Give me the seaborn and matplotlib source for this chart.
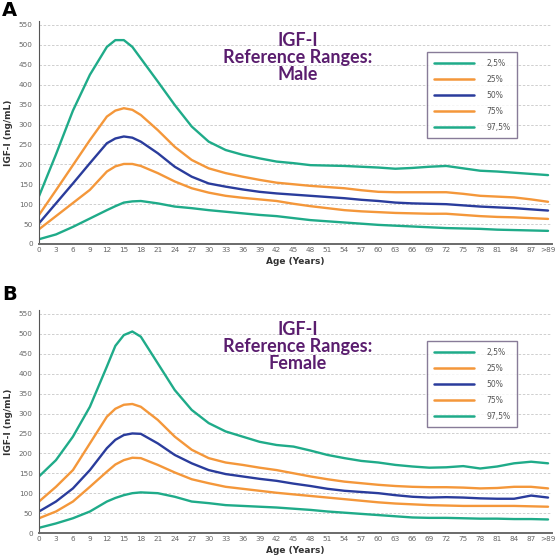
import matplotlib
matplotlib.use("Agg")
import matplotlib.pyplot as plt
import seaborn as sns
import pandas as pd

ages = [0, 3, 6, 9, 12, 13.5, 15, 16.5, 18, 21, 24, 27, 30, 33, 36, 39, 42, 45, 48, 51,
        54, 57, 60, 63, 66, 69, 72, 75, 78, 81, 84, 87, 90]
tick_pos = [0, 3, 6, 9, 12, 15, 18, 21, 24, 27, 30, 33, 36, 39, 42, 45, 48, 51, 54, 57,
            60, 63, 66, 69, 72, 75, 78, 81, 84, 87, 90]
tick_labels = ["0", "3", "6", "9", "12", "15", "18", "21", "24", "27", "30", "33", "36",
               "39", "42", "45", "48", "51", "54", "57", "60", "63", "66", "69", "72",
               "75", "78", "81", "84", "87", ">89"]
percentiles = ["2,5%", "25%", "50%", "75%", "97,5%"]

male_p2_5 = [12, 24, 43, 64, 85, 95, 104, 107, 108, 102, 94, 90, 85, 81, 77, 73, 70, 65,
             60, 57, 54, 51, 48, 46, 44, 42, 40, 39, 38, 36, 35, 34, 33]
male_p25 = [37, 70, 103, 136, 182, 195, 201, 201, 196, 178, 157, 140, 129, 121, 116, 112,
            108, 101, 95, 90, 85, 82, 80, 78, 77, 76, 76, 73, 70, 68, 67, 65, 63]
male_p50 = [52, 102, 152, 203, 253, 265, 270, 267, 257, 228, 194, 169, 152, 144, 137, 131,
            127, 124, 121, 118, 115, 111, 108, 104, 102, 101, 100, 97, 94, 92, 90, 87, 84]
male_p75 = [73, 135, 198, 261, 320, 335, 341, 337, 324, 286, 244, 211, 190, 178, 169, 161,
            154, 150, 146, 143, 140, 135, 131, 130, 130, 130, 130, 126, 121, 119, 117, 112,
            106]
male_p97_5 = [120, 225, 335, 425, 495, 512, 512, 495, 466, 408, 349, 295, 257, 236, 224,
              215, 207, 203, 198, 197, 196, 194, 192, 189, 191, 194, 196, 190, 184, 182,
              179, 176, 173]

female_p2_5 = [13, 24, 37, 54, 79, 88, 95, 100, 102, 100, 91, 79, 75, 70, 68, 66, 64, 61,
               58, 54, 51, 48, 45, 42, 39, 38, 38, 37, 36, 36, 35, 35, 34]
female_p25 = [37, 54, 79, 116, 154, 172, 183, 189, 188, 171, 152, 135, 125, 116, 111, 106,
              101, 97, 93, 89, 85, 81, 77, 74, 72, 70, 69, 68, 68, 68, 68, 67, 66]
female_p50 = [54, 79, 112, 158, 213, 234, 246, 250, 249, 225, 196, 175, 158, 148, 142, 136,
              131, 124, 118, 111, 106, 103, 100, 95, 91, 89, 90, 89, 87, 86, 86, 94, 89]
female_p75 = [79, 116, 158, 225, 292, 312, 322, 324, 317, 284, 242, 209, 188, 177, 171, 164,
              158, 150, 142, 135, 129, 125, 121, 118, 116, 115, 115, 114, 112, 113, 116,
              116, 112]
female_p97_5 = [142, 183, 242, 317, 418, 470, 497, 506, 493, 426, 359, 309, 276, 255, 242,
                229, 221, 217, 207, 196, 188, 181, 177, 171, 167, 164, 165, 168, 162, 167,
                175, 179, 175]

GREEN = "#1fab89"
ORANGE = "#f4973a"
BLUE = "#2a3c9c"
PURPLE = "#5a1d6e"
palette = {"2,5%": GREEN, "25%": ORANGE, "50%": BLUE, "75%": ORANGE, "97,5%": GREEN}


def long_df(series):
    rows = []
    for name, vals in zip(percentiles, series):
        for a, v in zip(ages, vals):
            rows.append({"age": a, "value": v, "pct": name})
    return pd.DataFrame(rows)


sns.set_style("white")
plt.rcParams["font.family"] = ["DejaVu Sans"]

fig = plt.figure(figsize=(5.57, 5.57), dpi=100)
W, H = 557.0, 557.0


def make_panel(bottom_px, series, sex, letter, letter_y):
    left = 39 / W
    width = 513 / W
    height = 223 / H
    ax = fig.add_axes([left, 1 - bottom_px / H, width, height])
    df = long_df(series)
    sns.lineplot(data=df, x="age", y="value", hue="pct", hue_order=percentiles,
                 palette=palette, linewidth=1.7, ax=ax)
    for ln in ax.get_lines():
        ln.set_solid_joinstyle("round")
    ax.set_xlim(0, 90.7)
    ax.set_ylim(0, 560)
    ax.set_yticks(range(0, 551, 50))
    ax.set_xticks(tick_pos)
    ax.set_xticklabels(tick_labels)
    ax.tick_params(axis="both", labelsize=5.2, colors="#444444", length=2.5, width=0.6,
                   pad=2)
    ax.tick_params(axis="x", length=0)
    for lab in ax.get_xticklabels() + ax.get_yticklabels():
        lab.set_color("#666666")
    ax.yaxis.grid(True, linestyle=(0, (3, 2)), color="#c8c8c8", linewidth=0.6)
    ax.xaxis.grid(False)
    ax.set_axisbelow(True)
    for s in ["top", "right"]:
        ax.spines[s].set_visible(False)
    ax.spines["left"].set_color("#555555")
    ax.spines["left"].set_linewidth(0.8)
    ax.spines["bottom"].set_color("#6a6a6a")
    ax.spines["bottom"].set_linewidth(1.4)
    ax.set_xlabel("Age (Years)", fontsize=6.5, fontweight="bold", color="#333333",
                  labelpad=3)
    ax.set_ylabel("IGF-I (ng/mL)", fontsize=6.5, fontweight="bold", color="#333333",
                  labelpad=4)
    ax.text(0.505, 0.835, "IGF-I\nReference Ranges:\n" + sex, transform=ax.transAxes,
            ha="center", va="center", fontsize=13, fontweight="bold", color=PURPLE,
            family="Lato", linespacing=1.0)
    leg = ax.legend(loc="upper left", bbox_to_anchor=(0.757, 0.86), fontsize=5.5,
                    handlelength=5.2, labelspacing=0.9, handletextpad=1.6,
                    borderpad=0.9, borderaxespad=0, frameon=True, fancybox=False,
                    title=None)
    leg.get_frame().set_edgecolor("#6b5a7e")
    leg.get_frame().set_linewidth(1.0)
    for t in leg.get_texts():
        t.set_color("#555555")
    for line in leg.get_lines():
        line.set_linewidth(1.8)
    fig.text(2 / W, 1 - letter_y / H, letter, fontsize=14, fontweight="bold",
             color="black", ha="left", va="top")
    return ax


make_panel(244, [male_p2_5, male_p25, male_p50, male_p75, male_p97_5], "Male", "A", 1)
make_panel(533, [female_p2_5, female_p25, female_p50, female_p75, female_p97_5],
           "Female", "B", 285)

fig.savefig("out.png", dpi=100)
